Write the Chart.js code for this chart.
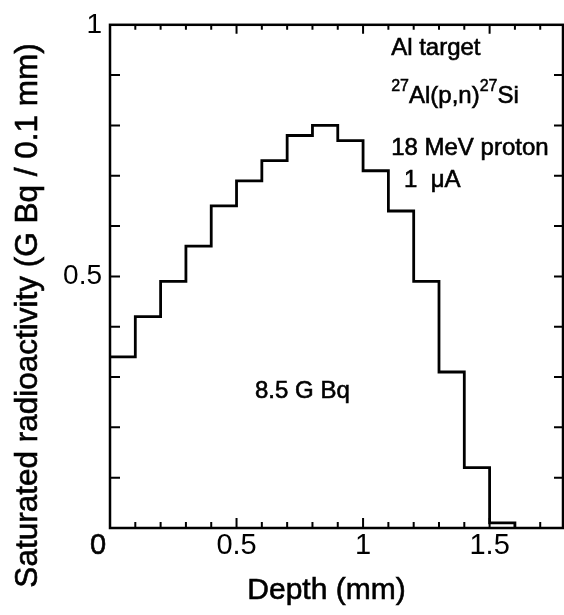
<!DOCTYPE html>
<html><head><meta charset="utf-8">
<script src="https://cdn.jsdelivr.net/npm/chart.js@4/dist/chart.umd.min.js"></script>
<style>html,body{margin:0;padding:0;background:#fff}#wrap{width:564px;height:615px;position:relative}</style>
</head><body><div id="wrap"><canvas id="c"></canvas></div>
<script>
// ---- data ----
const depthEdges = [0.0,0.1,0.2,0.3,0.4,0.5,0.6,0.7,0.8,0.9,1.0,1.1,1.2,1.3,1.4,1.5,1.6];
const activity   = [0.34,0.42,0.49,0.56,0.64,0.69,0.73,0.78,0.80,0.77,0.71,0.63,0.49,0.31,0.12,0.01];
const xTickLabels = [0, 0.5, 1, 1.5];
const yTickLabels = [0, 0.5, 1];
const xTickMarks = [0.1,0.2,0.3,0.4,0.5,0.6,0.7,0.8,0.9,1.0,1.1,1.2,1.3,1.4,1.5,1.6,1.7];
const yTickMarks = [0.1,0.2,0.3,0.4,0.5,0.6,0.7,0.8,0.9];
const xRange = [0, 1.79];
const yRange = [0, 1];
const xTitle = 'Depth (mm)';
const yTitle = 'Saturated radioactivity (G Bq / 0.1 mm)';
const notes = [
  {x:1.111, y:0.953, parts:[{t:'Al target'}]},
  {x:1.111, y:0.858, parts:[{t:'27',sup:true},{t:'Al(p,n)'},{t:'27',sup:true},{t:'Si'}]},
  {x:1.111, y:0.755, parts:[{t:'18 MeV proton'}]},
  {x:1.162, y:0.690, parts:[{t:'1  \u03BCA'}]},
  {x:0.573, y:0.272, parts:[{t:'8.5 G Bq'}]}
];

const FONT = "'Liberation Sans', Arial, Helvetica, sans-serif";
Chart.defaults.font.family = FONT;
Chart.defaults.color = '#000';

const points = depthEdges.map((x,i)=>({x:x, y: i < activity.length ? activity[i] : 0}));
const near = (a,b)=>Math.abs(a-b)<1e-9;

function heavyText(ctx, t, x, y, w){
  ctx.fillText(t, x, y);
  ctx.lineWidth = w; ctx.strokeText(t, x, y);
}

const frameTicks = {
  id:'frameTicks',
  afterDatasetsDraw(chart){
    const {ctx, chartArea:a, scales:{x,y}} = chart;
    ctx.save();
    ctx.strokeStyle='#000'; ctx.lineWidth=2.5;
    ctx.strokeRect(a.left, a.top, a.right-a.left, a.bottom-a.top);
    ctx.lineWidth=2;
    ctx.beginPath();
    xTickMarks.forEach(v=>{
      const px = x.getPixelForValue(v);
      const major = xTickLabels.some(t=>near(t,v));
      const lb = major?10:6, lt = major?9:5;
      ctx.moveTo(px, a.bottom); ctx.lineTo(px, a.bottom-lb);
      ctx.moveTo(px, a.top); ctx.lineTo(px, a.top+lt);
    });
    yTickMarks.forEach(v=>{
      const py = y.getPixelForValue(v);
      ctx.moveTo(a.left, py); ctx.lineTo(a.left+10, py);
      ctx.moveTo(a.right, py); ctx.lineTo(a.right-9, py);
    });
    ctx.stroke();
    ctx.restore();
  },
  afterDraw(chart){
    const {ctx, chartArea:a, scales:{x,y}} = chart;
    ctx.save();
    ctx.fillStyle='#000'; ctx.strokeStyle='#000';
    // shared origin label
    ctx.font = '29px '+FONT;
    ctx.textAlign='center'; ctx.textBaseline='middle';
    heavyText(ctx, '0', x.getPixelForValue(0)-12, a.bottom+18, 0.6);
    // x axis title
    ctx.font = '30px '+FONT;
    heavyText(ctx, xTitle, (a.left+a.right)/2-10, 591, 0.6);
    // y axis title
    ctx.save();
    ctx.translate(28, (a.top+a.bottom)/2+39);
    ctx.rotate(-Math.PI/2);
    ctx.font = '31.5px '+FONT;
    ctx.textAlign='center'; ctx.textBaseline='middle';
    heavyText(ctx, yTitle, 0, 0, 0.6);
    ctx.restore();
    // annotations
    notes.forEach(n=>{
      let px = x.getPixelForValue(n.x);
      const py = y.getPixelForValue(n.y);
      ctx.textAlign='left'; ctx.textBaseline='middle';
      n.parts.forEach(p=>{
        if(p.sup){ ctx.font='16px '+FONT; heavyText(ctx, p.t, px, py-10, 0.5); }
        else { ctx.font='24px '+FONT; heavyText(ctx, p.t, px, py, 0.6); }
        px += ctx.measureText(p.t).width;
      });
    });
    ctx.restore();
  }
};

new Chart(document.getElementById('c'), {
  type:'line',
  data:{datasets:[{
    data: points,
    stepped: true,
    borderColor:'#000',
    borderWidth:2.8,
    pointRadius:0,
    fill:false,
    tension:0
  }]},
  options:{
    responsive:true, maintainAspectRatio:false, animation:false, devicePixelRatio:1,
    layout:{padding:{top:21,right:1,left:0,bottom:0}},
    plugins:{legend:{display:false}, tooltip:{enabled:false}},
    scales:{
      x:{
        type:'linear', min:xRange[0], max:xRange[1],
        afterBuildTicks:s=>{ s.ticks = xTickLabels.map(v=>({value:v})); },
        afterFit:s=>{ s.height = 87; },
        grid:{display:false, drawTicks:false},
        border:{display:false},
        ticks:{font:{size:29}, padding:1, maxRotation:0, autoSkip:false,
               callback:v=> v===0 ? '' : String(v)},
        title:{display:false, text:xTitle}
      },
      y:{
        type:'linear', min:yRange[0], max:yRange[1],
        afterBuildTicks:s=>{ s.ticks = yTickLabels.map(v=>({value:v})); },
        afterFit:s=>{ s.width = 110; },
        grid:{display:false, drawTicks:false},
        border:{display:false},
        ticks:{font:{size:28}, padding:8, autoSkip:false,
               callback:v=> v===0 ? '' : String(v)},
        title:{display:false, text:yTitle}
      }
    }
  },
  plugins:[frameTicks]
});
</script></body></html>
